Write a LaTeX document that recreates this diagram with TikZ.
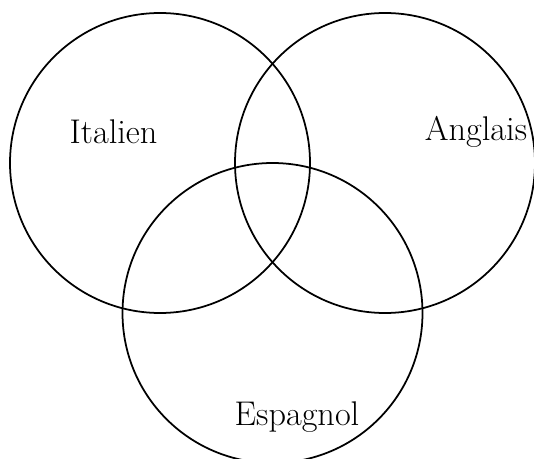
\documentclass[tikz,border=0pt]{standalone}
\usepackage{tikz}
\usetikzlibrary{positioning}

\begin{document}
\begin{tikzpicture}[
    every node/.style={font=\fontsize{19.5}{23}\selectfont},
    langset/.style={circle, draw=black, line width=1pt, minimum size=6cm, inner sep=0pt},
    setlab/.style={align=center}
]
\useasboundingbox (-3.2,-5.92) rectangle (7.48,3.26);
% Sets
\node[langset] (ita) at (0,0)      {};
\node[langset] (ang) at (4.5,0)    {};
\node[langset] (esp) at (2.25,-3)  {};

% Labels
\node[setlab] (lita) at (-0.93,0.62) {Italien};
\node[setlab] (lang) at (6.32,0.62)  {Anglais};
\node[setlab] (lesp) at (2.74,-5.08) {Espagnol};
\end{tikzpicture}
\end{document}
